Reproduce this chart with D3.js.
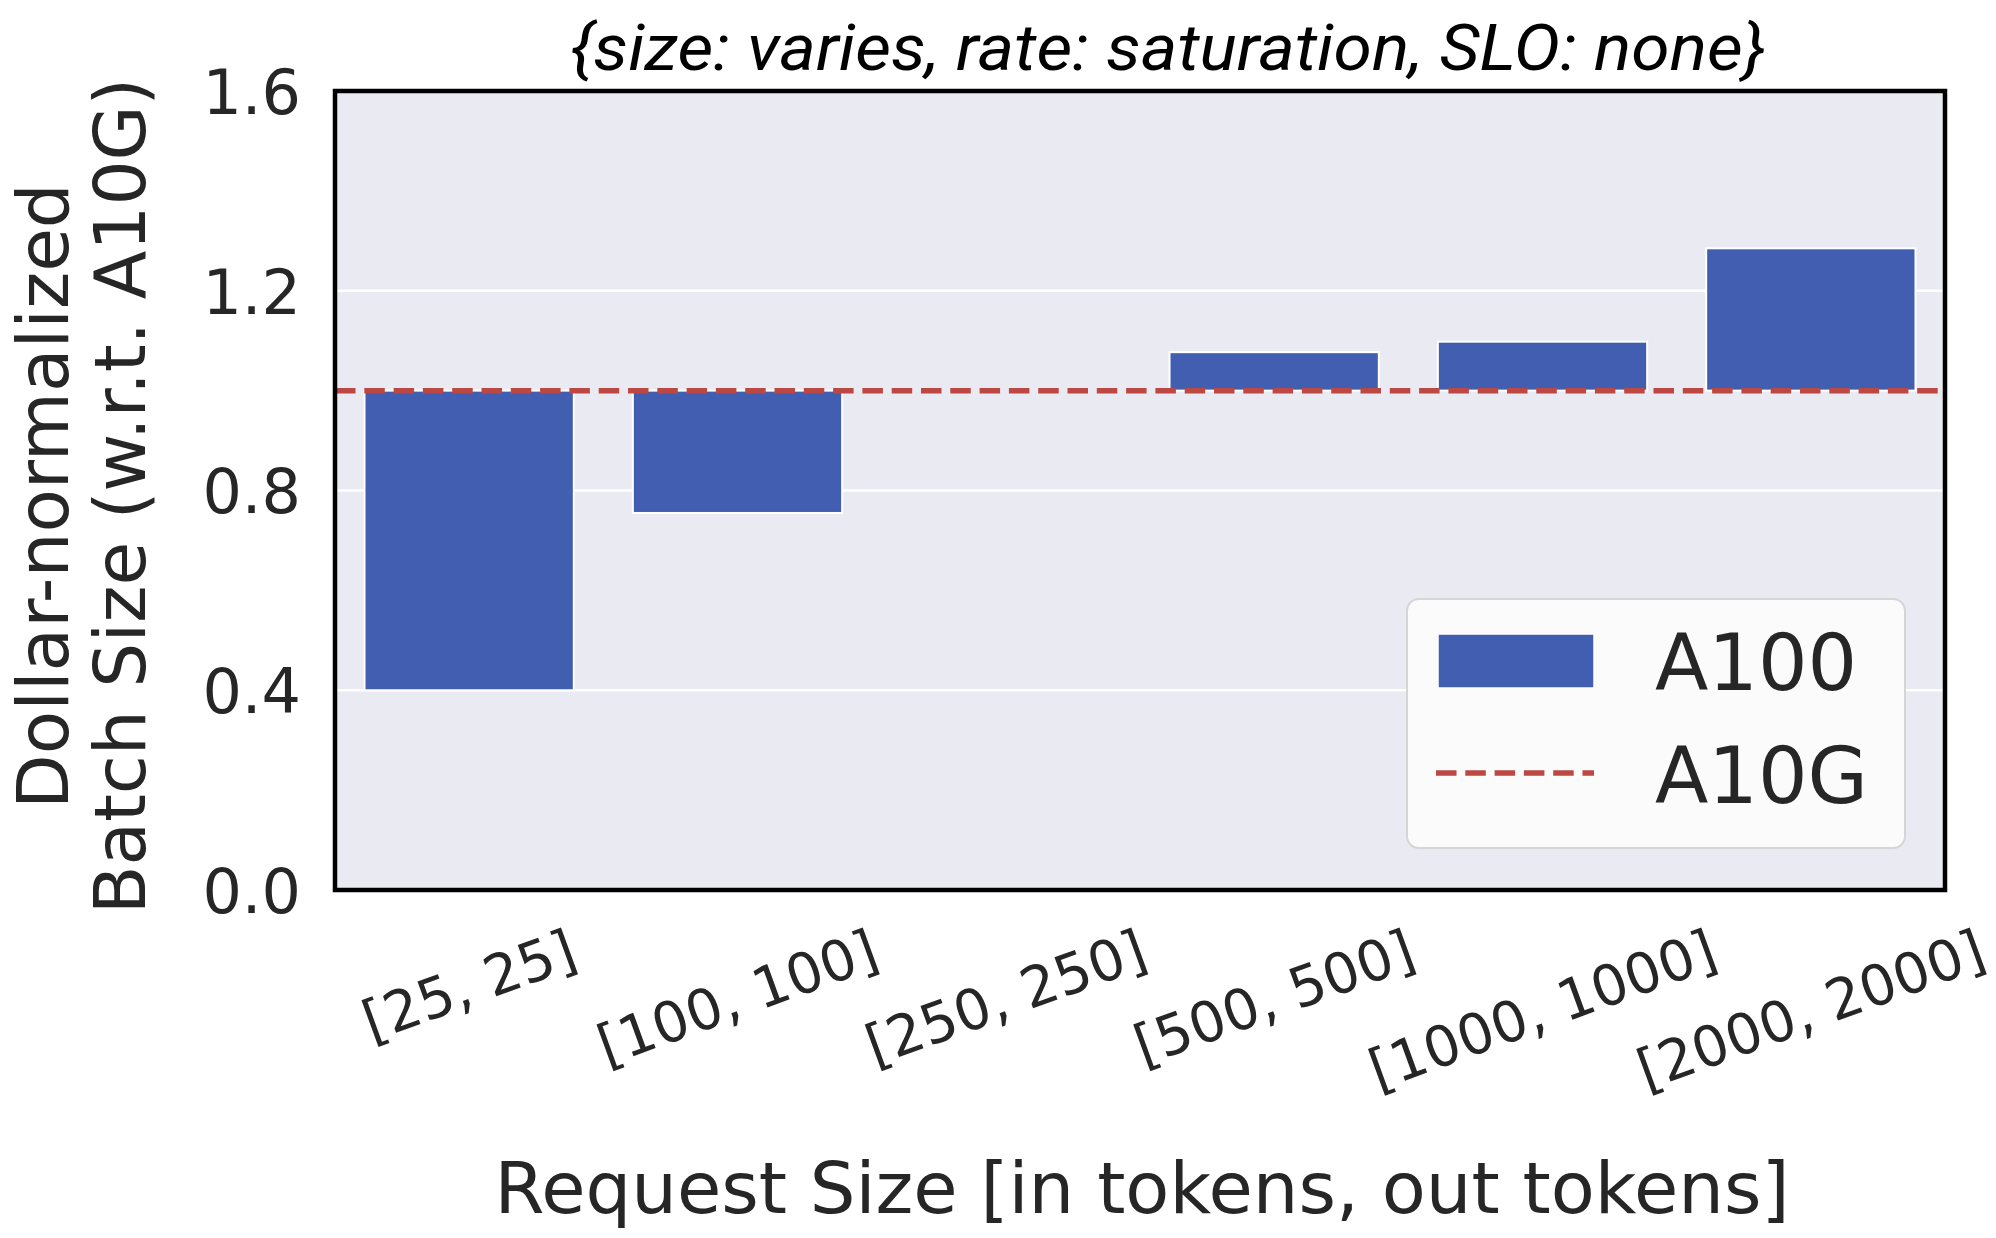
<!DOCTYPE html>
<html>
<head>
<meta charset="utf-8">
<script src="https://cdn.jsdelivr.net/npm/d3@7"></script>
<style>
  body { margin: 0; background: #fff; }
  text { font-family: "DejaVu Sans", sans-serif; fill: #262626; }
</style>
</head>
<body>
<svg id="chart"></svg>
<script>
// data
var categories = ["[25, 25]", "[100, 100]", "[250, 250]", "[500, 500]", "[1000, 1000]", "[2000, 2000]"];
var a100Values = [0.40, 0.755, 1.0, 1.077, 1.098, 1.285];
var a10gBaseline = 1.0;
var yTicks = [0.0, 0.4, 0.8, 1.2, 1.6];
var seriesNames = ["A100", "A10G"];
var titleText = "{size: varies, rate: saturation, SLO: none}";
var xLabel = "Request Size [in tokens, out tokens]";
var yLabelLines = ["Dollar-normalized", "Batch Size (w.r.t. A10G)"];

var W = 1996, H = 1238;
var m = { l: 335, r: 1945, t: 91, b: 890 };
var barColor = "#425EB0", lineColor = "#BC4843";

var svg = d3.select("#chart").attr("width", W).attr("height", H);

var x = d3.scaleBand().domain(categories).range([m.l, m.r])
  .paddingInner(0.22).paddingOuter(0.11);
var y = d3.scaleLinear().domain([0, 1.6]).range([m.b, m.t]);

// plot background + grid
svg.append("rect")
  .attr("x", m.l).attr("y", m.t)
  .attr("width", m.r - m.l).attr("height", m.b - m.t)
  .attr("fill", "#EAEAF2");

svg.append("g").selectAll("line").data(yTicks).enter().append("line")
  .attr("x1", m.l).attr("x2", m.r)
  .attr("y1", function(d) { return y(d); })
  .attr("y2", function(d) { return y(d); })
  .attr("stroke", "#fff").attr("stroke-width", 2.5);

// bars drawn from the A10G baseline
svg.append("g").selectAll("rect").data(a100Values).enter().append("rect")
  .attr("x", function(d, i) { return x(categories[i]); })
  .attr("width", x.bandwidth())
  .attr("y", function(d) { return y(Math.max(d, a10gBaseline)); })
  .attr("height", function(d) { return Math.abs(y(d) - y(a10gBaseline)); })
  .attr("fill", barColor)
  .attr("stroke", "#fff").attr("stroke-width", 2);

// A10G reference line
svg.append("line")
  .attr("x1", m.l).attr("x2", m.r)
  .attr("y1", y(a10gBaseline)).attr("y2", y(a10gBaseline))
  .attr("stroke", lineColor).attr("stroke-width", 5.5)
  .attr("stroke-dasharray", "20.5,8.8");

// frame
svg.append("rect")
  .attr("x", m.l).attr("y", m.t)
  .attr("width", m.r - m.l).attr("height", m.b - m.t)
  .attr("fill", "none").attr("stroke", "#000").attr("stroke-width", 4.5);

// y axis
var yAxis = d3.axisLeft(y).tickValues(yTicks).tickSize(0).tickPadding(34)
  .tickFormat(d3.format(".1f"));
var gy = svg.append("g").attr("transform", "translate(" + m.l + ",0)").call(yAxis);
gy.select(".domain").remove();
gy.selectAll("text")
  .style("font-family", "DejaVu Sans").style("font-size", "62px")
  .attr("fill", "#262626").attr("dy", "0.36em");

// x axis with rotated labels
var xAxis = d3.axisBottom(x).tickSize(0).tickPadding(0);
var gx = svg.append("g").attr("transform", "translate(0," + m.b + ")").call(xAxis);
gx.select(".domain").remove();
var xFont = 56, rot = 20 * Math.PI / 180;
gx.selectAll("text")
  .style("font-family", "DejaVu Sans").style("font-size", xFont + "px")
  .attr("fill", "#262626")
  .attr("text-anchor", "middle")
  .attr("dominant-baseline", "central")
  .attr("y", 0).attr("dy", null)
  .each(function() {
    var w = this.getComputedTextLength();
    var h = xFont * 1.16;
    var bh = w * Math.sin(rot) + h * Math.cos(rot);
    var yc = 27 + bh / 2;
    d3.select(this).attr("transform", "translate(0," + yc + ") rotate(-20)");
  });

// axis labels
svg.append("text")
  .attr("x", 1142).attr("y", 1213)
  .attr("text-anchor", "middle")
  .style("font-size", "72px")
  .text(xLabel);

var yl = svg.append("g").attr("transform", "translate(0,496)");
yl.selectAll("text").data(yLabelLines).enter().append("text")
  .attr("transform", function(d, i) { return "translate(" + [68, 145][i] + ",0) rotate(-90)"; })
  .attr("text-anchor", "middle")
  .style("font-size", "71px")
  .text(function(d) { return d; });

// title
svg.append("text")
  .attr("x", 1168).attr("y", 70)
  .attr("text-anchor", "middle")
  .style("font-family", "Roboto, sans-serif")
  .style("font-style", "italic")
  .style("font-size", "65px")
  .style("fill", "#000")
  .attr("textLength", 1195).attr("lengthAdjust", "spacingAndGlyphs")
  .text(titleText);

// legend
var lg = svg.append("g");
lg.append("rect")
  .attr("x", 1407).attr("y", 599).attr("width", 498).attr("height", 249)
  .attr("rx", 12).attr("ry", 12)
  .attr("fill", "#FBFBFC").attr("stroke", "#D5D5D8").attr("stroke-width", 2);
lg.append("rect")
  .attr("x", 1438).attr("y", 634).attr("width", 156).attr("height", 54)
  .attr("fill", barColor).attr("stroke", "#fff").attr("stroke-width", 1.5);
lg.append("line")
  .attr("x1", 1436).attr("x2", 1594).attr("y1", 773).attr("y2", 773)
  .attr("stroke", lineColor).attr("stroke-width", 5.5)
  .attr("stroke-dasharray", "20.5,8.8");
lg.selectAll("text.lab").data(seriesNames).enter().append("text")
  .attr("class", "lab")
  .attr("x", 1655).attr("y", function(d, i) { return [690, 803][i]; })
  .style("font-size", "78px")
  .text(function(d) { return d; });
</script>
</body>
</html>
